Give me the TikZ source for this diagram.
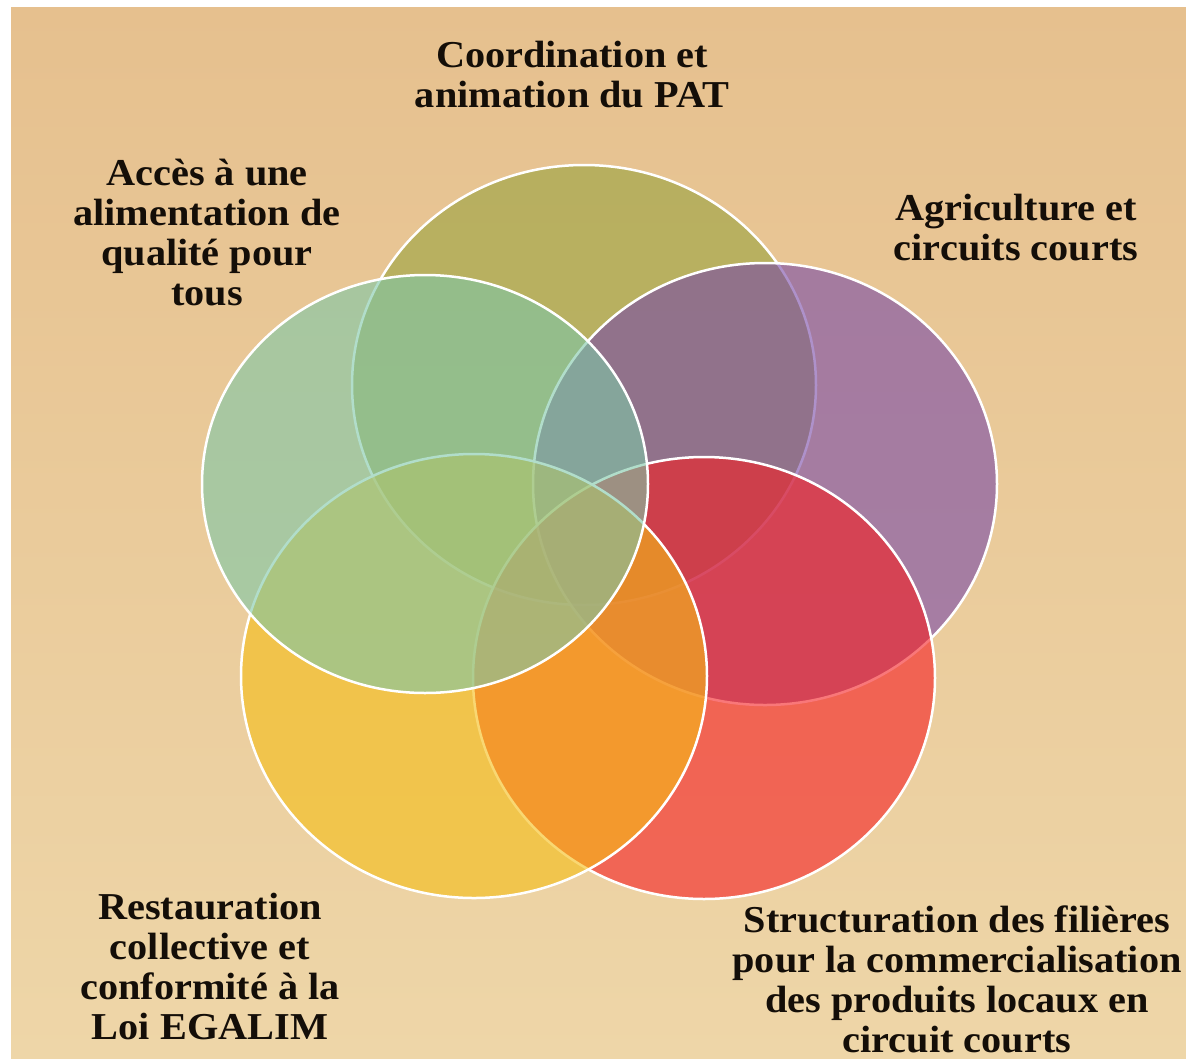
\documentclass[tikz,border=0pt]{standalone}
\usepackage{fontspec}
\setmainfont{Liberation Serif}[FakeStretch=1.06]
\usetikzlibrary{shapes.geometric}
\definecolor{bgtop}{RGB}{230,192,142}
\definecolor{bgbot}{RGB}{238,214,168}
\definecolor{colOlive}{RGB}{152,162,62}
\definecolor{colPurple}{RGB}{120,73,167}
\definecolor{colRed}{RGB}{245,29,33}
\definecolor{colYellow}{RGB}{245,189,20}
\definecolor{colGreen}{RGB}{125,199,167}
\definecolor{txt}{RGB}{20,14,8}
\begin{document}
\begin{tikzpicture}[x=1pt,y=-1pt,
  venn/.style={ellipse, draw=white, line width=2.5pt, fill opacity=0.6, inner sep=0pt, outer sep=0pt},
  lbl/.style={font=\bfseries\fontsize{38}{40}\selectfont, align=center, text=txt, inner sep=0pt}]
\useasboundingbox (0,0) rectangle (1186,1058);
\fill[white] (0,0) rectangle (1186,1058);
\shade[top color=bgtop, bottom color=bgbot] (11,7) rectangle (1186,1058);
% circles, bottom to top
\node[venn, fill=colOlive, minimum width=464pt, minimum height=440pt] (olive) at (584,385) {};
\node[venn, fill=colPurple, minimum width=464pt, minimum height=442pt] (purple) at (765,484) {};
\node[venn, fill=colRed, minimum width=462pt, minimum height=442pt] (red) at (704,678) {};
\node[venn, fill=colYellow, minimum width=466pt, minimum height=444pt] (yellow) at (474,676) {};
\node[venn, fill=colGreen, minimum width=446pt, minimum height=418pt] (green) at (425,484) {};
% labels
\node[lbl] (t1) at (572,75) {Coordination et\\animation du PAT};
\node[lbl] (t2) at (207,233) {Accès à une\\alimentation de\\qualité pour\\tous};
\node[lbl] (t3) at (1016,228) {Agriculture et\\circuits courts};
\node[lbl] (t4) at (210,966) {Restauration\\collective et\\conformité à la\\Loi EGALIM};
\node[lbl] (t5) at (957,979) {Structuration des filières\\pour la commercialisation\\des produits locaux en\\circuit courts};
\end{tikzpicture}
\end{document}
